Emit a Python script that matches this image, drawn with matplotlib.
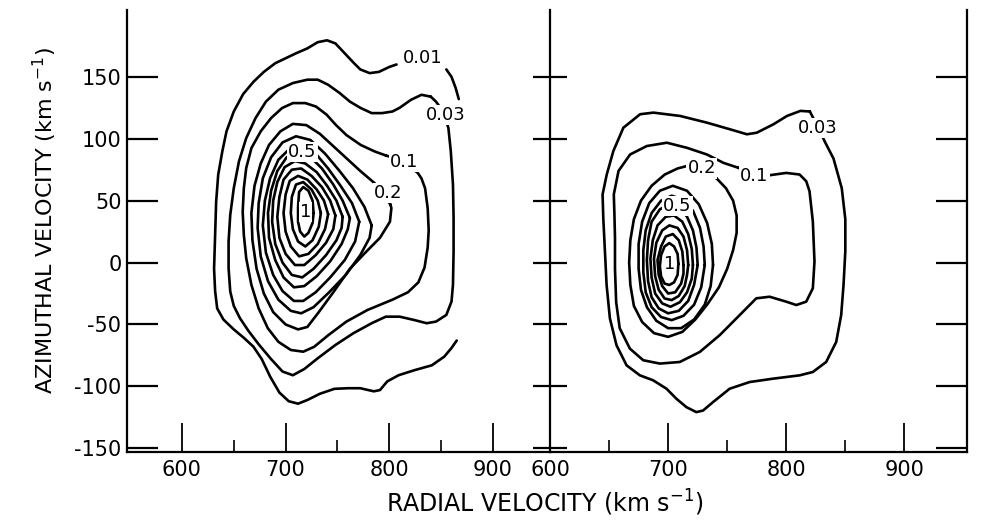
import matplotlib.pyplot as plt

plt.rcParams['axes.unicode_minus'] = False

# ---- axes / ticks ----
y_ticks = [-150, -100, -50, 0, 50, 100, 150]
x_major = [600, 700, 800, 900]
x_minor = [650, 750, 850]
left_xlim = (547, 955)
right_xlim = (600, 953)
ylim = (-153, 204)

# ---- left panel contours, (radial, azimuthal) km/s ----
L_001 = [(807, 160), (800, 158), (790, 154), (781, 153), (772, 156), (766, 161), (757, 169),
         (748, 177), (740, 179.5), (731, 178), (721, 173), (710, 169), (700, 165), (690, 161),
         (679, 154), (669, 146), (659, 136), (650, 122), (643, 106), (639, 90), (635, 71),
         (633, 49), (632, 22), (631, -5), (632, -23), (634, -37), (640, -46), (650, -54),
         (660, -61), (669, -68), (677, -78), (685, -92), (694, -105), (703, -112), (712, -114),
         (721, -111), (733, -106), (747, -102), (760, -101.5), (772, -101.5), (785, -104),
         (791, -103), (798, -96), (809, -91), (824, -87), (841, -83), (853, -76), (860, -69),
         (865, -63)]
L_001b = [(855, 156), (860, 150), (864, 141), (867, 132)]
L_003 = [(840, 134), (831, 135.5), (821, 131.5), (810, 125), (803, 122), (793, 120.7),
         (783, 120.7), (772, 125), (762, 130), (752, 137), (741, 143.6), (731, 147.7),
         (721, 147.7), (707, 145), (693, 139.6), (681, 130), (671, 116.7), (662, 100.5),
         (655, 81.7), (650, 60), (646.6, 38.5), (645, 17), (645, -4.6), (646.6, -23.4),
         (650, -35), (656, -45), (664, -55), (674, -66), (686, -78), (697, -88), (707, -91),
         (718, -86), (731, -77.3), (748, -66.6), (765.5, -57), (783, -49),
         (796.6, -43.7), (810, -43.7), (824, -46.4), (836, -49), (845, -47.7), (855, -42.3),
         (860, -31.5), (861.4, -18), (862, 9), (862, 36), (861.4, 63), (859.3, 90),
         (857, 108.6), (852, 122), (845, 130)]
L_010 = [(796.6, 86.5), (786, 89.7), (772.4, 95), (758.6, 103), (748.3, 111.3), (739.6, 119.4),
         (729.3, 126), (719, 128.8), (707, 128.8), (696.6, 124.8), (686, 116.7), (676, 106),
         (667, 92.4), (662, 76.3), (659.7, 60), (658.6, 41), (659.7, 22.4), (662, 3.5),
         (667, -18), (674, -37), (682.8, -53), (693, -64), (705, -70.6), (717, -72),
         (727.6, -68), (741.4, -58.5), (758.6, -47.7), (779, -38.3), (803, -30), (818, -24),
         (828, -16), (834, -4), (837, 12), (838, 26), (837, 44), (834.5, 60), (831, 68),
         (827.6, 72.2), (814, 82)]
L_020 = [(801, 47), (786, 64), (772, 74), (759, 84), (746, 94), (733, 104), (720, 111),
         (707, 112), (695, 106), (684, 95), (676, 80), (670, 62), (667, 40), (668, 18),
         (672, -5), (679, -25), (688, -40), (700, -50), (712, -54), (721, -52), (732, -40),
         (746, -24), (762, -5), (778, 9), (791, 20), (800.6, 33), (802, 44)]
L_030 = [(783, 30), (776, 45), (765, 60), (752, 74), (738, 88), (724, 99), (710, 102), (697, 97),
         (686, 85), (678, 68), (674, 48), (673, 28), (676, 5), (683, -15), (693, -30), (705, -39),
         (715, -41), (727, -36), (742, -24), (758, -10), (772, 6), (781, 20)]
L_040 = [(771, 33), (764, 48), (753, 62), (741, 76), (729, 88), (716, 94), (704, 92), (693, 83),
         (685, 68), (680, 50), (678, 30), (681, 8), (688, -10), (697, -23), (708, -31), (717, -31),
         (729, -24), (743, -12), (757, 2), (767, 17)]
L_050 = [(762, 36), (755, 50), (746, 63), (735, 76), (723, 86), (712, 89), (701, 85), (692, 74),
         (686, 58), (683, 40), (684, 20), (690, 2), (698, -12), (708, -20), (718, -19), (730, -11),
         (743, 1), (754, 15), (760, 27)]
L_060 = [(755, 37), (749, 50), (740, 62), (730, 73), (719, 80), (709, 82), (699, 77), (692, 65),
         (688, 50), (687, 33), (690, 15), (697, 0), (706, -10), (716, -12), (727, -5), (739, 6),
         (749, 18), (754, 28)]
L_070 = [(748, 38), (743, 50), (735, 61), (725, 70), (715, 76), (706, 75), (698, 67), (694, 53),
         (692, 37), (694, 20), (700, 7), (709, -2), (718, -2), (729, 6), (739, 16), (746, 27)]
L_080 = [(741, 39), (737, 50), (730, 59), (721, 67), (712, 70), (704, 66), (700, 55), (698, 40),
         (700, 25), (705, 13), (713, 5), (722, 7), (731, 15), (738, 27)]
L_090 = [(734, 40), (731, 50), (725, 59), (717, 65), (710, 63), (706, 53), (705, 40), (707, 27),
         (712, 17), (719, 13), (726, 18), (732, 29)]
L_095 = [(727, 40), (726, 50), (722, 58), (717, 61), (713, 57), (712, 45), (712, 33), (714, 25),
         (718, 21), (722, 24), (726, 32)]

left_closed = [L_003, L_010, L_020, L_030, L_040, L_050, L_060, L_070, L_080, L_090, L_095]
left_open = [L_001, L_001b]
left_labels = ["0.01", "0.03", "0.1", "0.2", "0.5", "1"]
left_label_pos = [(832, 165), (854, 119), (814, 81), (799, 56), (716, 89), (719, 41)]

# ---- right panel contours ----
R_003 = [(820, 122), (812, 122.5), (800.6, 118.4), (789.2, 111.7), (775.1, 104.9), (766.7, 103.6),
         (752.5, 107.6), (732.8, 113), (710.2, 118.4), (687.5, 121.1), (676.3, 119.8),
         (662.1, 108.9), (653.6, 90), (648, 71), (644.5, 55), (645.1, 35.9), (646.5, 8.9),
         (647.9, -18.1), (650.7, -45.1), (656.3, -66.8), (664.8, -83), (676.1, -91.1),
         (687.3, -95.1), (698.6, -101.9), (707, -110), (715.5, -116.8), (723.9, -120.8),
         (729.6, -119.5), (738, -112.7), (752.1, -101.9), (769, -96.5), (788.7, -93.8),
         (811.3, -91.1), (822.5, -88.4), (833.8, -80.3), (842.3, -64.1), (846.5, -42.4),
         (848.5, -18), (850, 9), (850, 35), (847, 60), (840, 84), (833, 97), (827, 109)]
R_010 = [(759.6, 76.5), (746.9, 80.5), (732.8, 87.3), (715.8, 92.7), (698.9, 96.8), (681.9, 94.1),
         (667.8, 87.3), (658, 74), (654, 55), (654.5, 40), (655, 20), (655, -5), (656, -32),
         (659, -53), (667.6, -69.5), (678.9, -78.9), (693, -81.6), (709.9, -80.3), (726.8, -72.2),
         (743.7, -58.6), (760.6, -42.4), (774.6, -28.9), (785.9, -27.6), (800, -31.6),
         (808.5, -34.3), (816.9, -31.6), (822.5, -20.8), (823.9, 0.8), (822.5, 33.2),
         (819.7, 57.6), (816.9, 65.7), (811.3, 71.1), (800, 72.4), (786.4, 70.6), (773, 70)]
R_020 = [(741, 68), (749, 60), (755, 50), (758, 38), (758, 24), (755, 10), (750, -5), (743, -20),
         (733, -34), (723, -46), (712, -56), (700, -60), (688, -57), (678, -48), (671, -35),
         (668, -18), (667, 0), (668, 18), (671, 35), (677, 50), (686, 62), (697, 71), (708, 76),
         (716, 78), (728, 76)]
R_030 = [(738, -2), (737, 15), (733, 32), (726, 47), (716, 58), (704, 62), (693, 58), (684, 48),
         (678, 33), (675, 15), (675, -5), (677, -22), (682, -36), (690, -47), (700, -53), (711, -53),
         (722, -46), (731, -34), (736, -19)]
R_040 = [(731, -2), (730, 13), (727, 28), (721, 42), (712, 51), (703, 54), (694, 50), (686, 40),
         (681, 26), (679, 10), (679, -8), (681, -24), (686, -36), (694, -44), (703, -46.5),
         (713, -43), (722, -34), (728, -20)]
R_050 = [(725, -2), (724, 12), (721, 26), (716, 37), (709, 45), (701, 47), (693, 43), (686, 33),
         (683, 18), (682, 2), (683, -15), (686, -28), (692, -37), (700, -41), (709, -39),
         (717, -31), (722, -18)]
R_060 = [(721, -2), (720, 11), (717, 23), (712, 33), (705, 38), (698, 37), (691, 30), (687, 18),
         (685, 3), (686, -12), (689, -25), (695, -33), (702, -35.7), (710, -32), (716, -24),
         (720, -13)]
R_070 = [(717, -2), (716, 10), (713, 21), (708, 28), (701, 30), (695, 26), (690, 16), (688, 3),
         (689, -11), (692, -22), (697, -29), (703, -30.3), (709, -27), (714, -19), (716, -10)]
R_080 = [(713, -2), (712, 9), (709, 18), (704, 23), (698, 21), (694, 13), (691, 2), (692, -10),
         (695, -19), (700, -25), (706, -24), (711, -17), (713, -9)]
R_090 = [(708.7, -1), (708, 7), (705, 13), (701, 15.7), (697, 13), (694, 6), (693, -3), (694, -11),
         (697, -17), (701, -18.1), (705, -16), (708, -10)]

right_closed = [R_003, R_010, R_020, R_030, R_040, R_050, R_060, R_070, R_080, R_090]
right_labels = ["0.03", "0.1", "0.2", "0.5", "1"]
right_label_pos = [(827, 109), (773, 70), (728.5, 76), (708, 46), (701, -1)]


def draw(ax, pts, closed):
    xs = [p[0] for p in pts]
    ys = [p[1] for p in pts]
    if closed:
        xs.append(xs[0])
        ys.append(ys[0])
    ax.plot(xs, ys, color='black', lw=1.9, solid_joinstyle='round',
            solid_capstyle='round', zorder=2)


def put_labels(ax, labels, pos):
    for s, (x, y) in zip(labels, pos):
        ax.text(x, y, s, ha='center', va='center', fontsize=13, zorder=5,
                bbox=dict(facecolor='white', edgecolor='none', pad=0.8))


fig = plt.figure(figsize=(9.82, 5.2), dpi=100)
ax1 = fig.add_axes([0.1293, 0.1308, 0.4308, 0.85])
ax2 = fig.add_axes([0.5601, 0.1308, 0.4246, 0.85])

for c in left_closed:
    draw(ax1, c, True)
for c in left_open:
    draw(ax1, c, False)
put_labels(ax1, left_labels, left_label_pos)

for c in right_closed:
    draw(ax2, c, True)
put_labels(ax2, right_labels, right_label_pos)

for ax, xl in ((ax1, left_xlim), (ax2, right_xlim)):
    ax.set_xlim(*xl)
    ax.set_ylim(*ylim)
    ax.set_xticks(x_major)
    ax.set_xticks(x_minor, minor=True)
    ax.set_xticklabels([str(v) for v in x_major])
    ax.set_yticks(y_ticks)
    ax.spines['top'].set_visible(False)
    for s in ax.spines.values():
        s.set_linewidth(1.6)
    ax.tick_params(axis='x', which='major', direction='in', length=21, width=1.3,
                   labelsize=15, pad=6)
    ax.tick_params(axis='x', which='minor', direction='in', length=9, width=1.2)

ax1.spines['right'].set_visible(False)
ax1.tick_params(axis='y', direction='in', length=22, width=1.6, labelsize=15, pad=4)

ax2.tick_params(axis='y', direction='inout', length=24, width=1.6, labelleft=False)
ax2r = ax2.twinx()
ax2r.set_ylim(*ylim)
ax2r.set_yticks(y_ticks)
ax2r.tick_params(axis='y', direction='in', length=22, width=1.6, labelright=False)
for s in ax2r.spines.values():
    s.set_visible(False)

fig.text(0.046, 0.577, "AZIMUTHAL VELOCITY (km s$^{-1}$)", rotation=90,
         ha='center', va='center', fontsize=16)
fig.text(0.555, 0.033, "RADIAL VELOCITY (km s$^{-1}$)", ha='center', va='center',
         fontsize=17)

fig.savefig("out.png", dpi=100)
